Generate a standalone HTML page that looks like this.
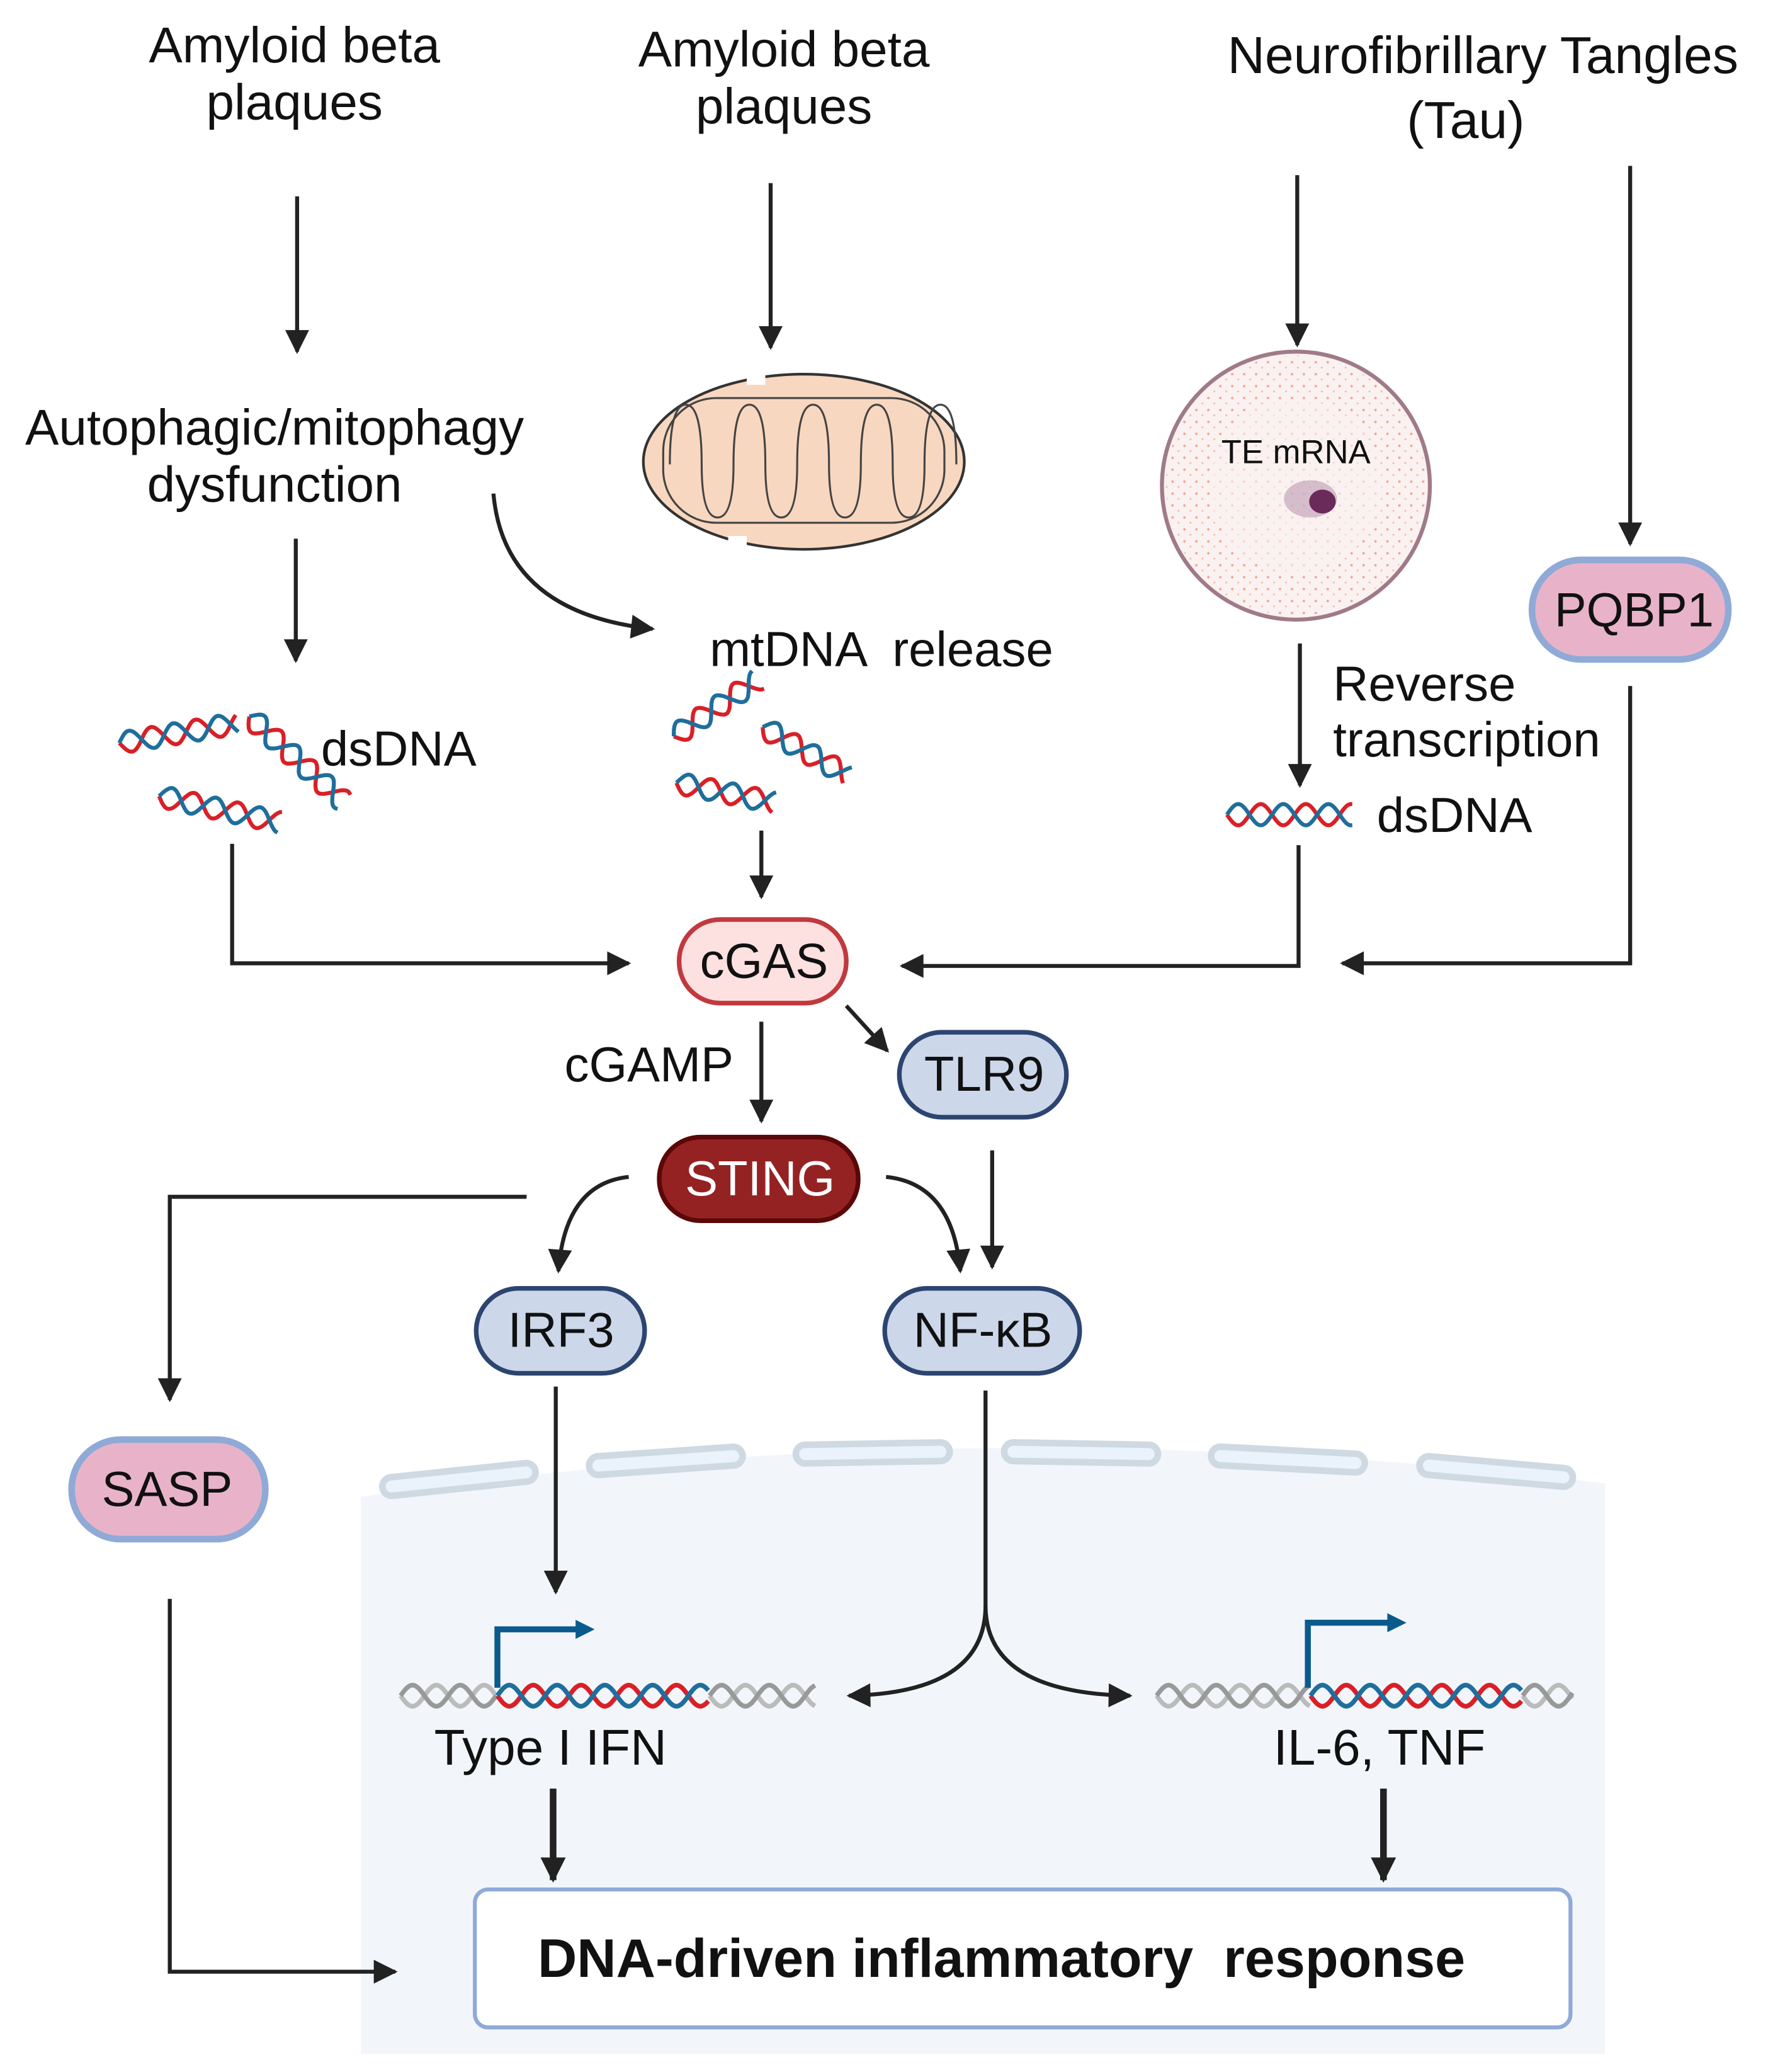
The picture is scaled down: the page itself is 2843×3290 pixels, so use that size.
<!DOCTYPE html>
<html><head><meta charset="utf-8">
<style>
html,body{margin:0;padding:0;background:#fff;}
svg{display:block;}
text{font-family:"Liberation Sans","DejaVu Sans",sans-serif;fill:#111;white-space:pre;}
</style></head>
<body>
<svg id="s" width="2843" height="3290" viewBox="0 0 1349.5 1561.6" preserveAspectRatio="none" xmlns="http://www.w3.org/2000/svg">
<defs>
<marker id="ah" viewBox="0 0 10 10" refX="9" refY="5" markerWidth="8" markerHeight="6" orient="auto-start-reverse" markerUnits="strokeWidth"><path d="M0,0 L10,5 L0,10 z" fill="#222"/></marker>
<marker id="ahb" viewBox="0 0 10 10" refX="9" refY="5" markerWidth="4.5" markerHeight="3.8" orient="auto" markerUnits="strokeWidth"><path d="M0,0 L10,5 L0,10 z" fill="#222"/></marker>
<marker id="ahp" viewBox="0 0 10 10" refX="7" refY="5" markerWidth="3.5" markerHeight="3.2" orient="auto" markerUnits="strokeWidth"><path d="M0,0 L10,5 L0,10 z" fill="#0b5a8c"/></marker>
<pattern id="dots" width="9" height="9" patternUnits="userSpaceOnUse"><circle cx="2" cy="3" r="0.9" fill="#f08060"/><circle cx="6.5" cy="7" r="0.7" fill="#f4a080"/></pattern>
</defs>

<path d="M272,1128 Q740,1060 1210,1118 L1210,1548 L272,1548 Z" fill="#f2f6fb"/>
<g fill="#eaf3fb" stroke="#cfd9e1" stroke-width="5">
<rect x="288" y="1108" width="116" height="14" rx="7" transform="rotate(-6 346 1115)"/>
<rect x="444" y="1094" width="116" height="14" rx="7" transform="rotate(-4 502 1101)"/>
<rect x="600" y="1088" width="116" height="14" rx="7" transform="rotate(-1 658 1095)"/>
<rect x="757" y="1088" width="116" height="14" rx="7" transform="rotate(1 815 1095)"/>
<rect x="913" y="1093" width="116" height="14" rx="7" transform="rotate(3 971 1100)"/>
<rect x="1070" y="1102" width="116" height="14" rx="7" transform="rotate(5 1128 1109)"/>
</g>

<g font-size="38" text-anchor="middle">
<text x="222" y="47">Amyloid beta</text>
<text x="222" y="90">plaques</text>
<text x="591" y="50">Amyloid beta</text>
<text x="591" y="93">plaques</text>
<text x="1118" y="55" font-size="39">Neurofibrillary Tangles</text>
<text x="1105" y="104" font-size="39">(Tau)</text>
<text x="207" y="335">Autophagic/mitophagy</text>
<text x="207" y="378">dysfunction</text>
</g>

<g stroke="#222" stroke-width="3" fill="none" marker-end="url(#ah)">
<line x1="224" y1="148" x2="224" y2="265"/>
<line x1="581" y1="138" x2="581" y2="262"/>
<line x1="978" y1="132" x2="978" y2="260"/>
<line x1="1229" y1="125" x2="1229" y2="410"/>
<line x1="223" y1="406" x2="223" y2="498"/>
<path d="M372,372 Q380,462 492,474"/>
<line x1="574" y1="626" x2="574" y2="676"/>
<line x1="980" y1="485" x2="980" y2="592"/>
<path d="M175,636 L175,726 L474,726"/>
<path d="M979,637 L979,728 L680,728"/>
<path d="M1229,517 L1229,726 L1012,726"/>
<line x1="574" y1="770" x2="574" y2="845"/>
<line x1="638" y1="758" x2="669" y2="792"/>
<line x1="748" y1="867" x2="748" y2="955"/>
<path d="M668,887 Q718,892 724,958"/>
<path d="M474,887 Q426,892 421,958"/>
<path d="M397,902 L128,902 L128,1055"/>
<line x1="419" y1="1045" x2="419" y2="1200"/>
<path d="M743,1048 L743,1210 Q743,1276 640,1278"/>
<path d="M743,1210 Q743,1276 852,1278"/>
<path d="M128,1205 L128,1486 L298,1486"/>
</g>
<g stroke="#222" stroke-width="5" fill="none" marker-end="url(#ahb)">
<line x1="417" y1="1348" x2="417" y2="1417"/>
<line x1="1043" y1="1348" x2="1043" y2="1417"/>
</g>

<g>
<ellipse cx="606" cy="348" rx="121" ry="66" fill="#f8d7c0" stroke="#333" stroke-width="2"/>
<rect x="500" y="300" width="212" height="94" rx="40" fill="none" stroke="#444" stroke-width="1.5"/>
<path d="M505,350 q0,-45 12,-45 q12,0 12,45 q0,40 12,40 q12,0 12,-40 q0,-45 12,-45 q12,0 12,45 q0,40 12,40 q12,0 12,-40 q0,-45 12,-45 q12,0 12,45 q0,40 12,40 q12,0 12,-40 q0,-45 12,-45 q12,0 12,45 q0,40 12,40 q12,0 12,-40 q0,-45 12,-45 q12,0 12,45" fill="none" stroke="#444" stroke-width="1.5"/>
<rect x="563" y="278" width="14" height="12" fill="#fff"/>
<rect x="549" y="404" width="14" height="12" fill="#fff"/>
</g>

<g>
<circle cx="977" cy="366" r="101" fill="#faf1f1" stroke="#a07a88" stroke-width="3"/>
<circle cx="977" cy="366" r="98" fill="url(#dots)" opacity="0.7"/>
<circle cx="977" cy="366" r="65" fill="#faf1f1" opacity="0.6"/>
<ellipse cx="988" cy="376" rx="20" ry="14" fill="#b08aa8" opacity="0.5"/>
<ellipse cx="997" cy="378" rx="10" ry="9" fill="#6a2a5a"/>
<text x="977" y="349" font-size="25" text-anchor="middle">TE mRNA</text>
</g>

<text x="535" y="502" font-size="37">mtDNA  release</text>
<text x="242" y="577" font-size="37">dsDNA</text>
<text x="1005" y="528" font-size="37">Reverse</text>
<text x="1005" y="570" font-size="37">transcription</text>
<text x="1038" y="627" font-size="37">dsDNA</text>
<text x="553" y="815" font-size="37" text-anchor="end">cGAMP</text>

<g id="helices"></g>

<path d="M375,1272 L375,1228 L444,1228" fill="none" stroke="#0b5a8c" stroke-width="4.5" marker-end="url(#ahp)"/>
<path d="M986,1272 L986,1223 L1056,1223" fill="none" stroke="#0b5a8c" stroke-width="4.5" marker-end="url(#ahp)"/>

<text x="415" y="1330" font-size="38" text-anchor="middle">Type I IFN</text>
<text x="1040" y="1330" font-size="38" text-anchor="middle">IL-6, TNF</text>

<rect x="1155" y="422" width="148" height="75" rx="37" fill="#e8b3c8" stroke="#8faad6" stroke-width="5"/>
<text x="1232" y="472" font-size="36" text-anchor="middle">PQBP1</text>
<rect x="512" y="693" width="126" height="63" rx="31" fill="#fde0e0" stroke="#c0393f" stroke-width="3.5"/>
<text x="576" y="737" font-size="37" text-anchor="middle">cGAS</text>
<rect x="678" y="778" width="126" height="64" rx="32" fill="#cdd7ea" stroke="#2c4570" stroke-width="3.5"/>
<text x="742" y="822" font-size="37" text-anchor="middle">TLR9</text>
<rect x="497" y="857" width="150" height="63" rx="31" fill="#952222" stroke="#5a0808" stroke-width="3.5"/>
<text x="573" y="901" font-size="37" text-anchor="middle" style="fill:#fff">STING</text>
<rect x="359" y="971" width="127" height="64" rx="32" fill="#cdd7ea" stroke="#2c4570" stroke-width="3.5"/>
<text x="423" y="1015" font-size="37" text-anchor="middle">IRF3</text>
<rect x="667" y="971" width="147" height="64" rx="32" fill="#cdd7ea" stroke="#2c4570" stroke-width="3.5"/>
<text x="741" y="1015" font-size="37" text-anchor="middle">NF-κB</text>
<rect x="54" y="1085" width="146" height="75" rx="37" fill="#e8b3c8" stroke="#8faad6" stroke-width="5"/>
<text x="126" y="1135" font-size="37" text-anchor="middle">SASP</text>

<rect x="358" y="1424" width="826" height="104" rx="10" fill="#fff" stroke="#8faad6" stroke-width="3"/>
<text x="755" y="1490" font-size="41" font-weight="bold" text-anchor="middle">DNA-driven inflammatory  response</text>
</svg>
<script>
(function(){
var g=document.getElementById('helices'),NS='http://www.w3.org/2000/svg';
function wave(x0,y0,x1,y1,amp,per,ph,col,w){
  var dx=x1-x0,dy=y1-y0,L=Math.sqrt(dx*dx+dy*dy),ux=dx/L,uy=dy/L,nx=-uy,ny=ux,d='';
  for(var t=0;t<=L;t+=1.5){var o=amp*Math.sin(2*Math.PI*t/per+ph);
    d+=(t?'L':'M')+(x0+ux*t+nx*o).toFixed(1)+','+(y0+uy*t+ny*o).toFixed(1);}
  var p=document.createElementNS(NS,'path');p.setAttribute('d',d);p.setAttribute('fill','none');
  p.setAttribute('stroke',col);p.setAttribute('stroke-width',w);g.appendChild(p);
}
function helix(x0,y0,x1,y1,amp,per,c1,c2,w){wave(x0,y0,x1,y1,amp,per,0,c1,w);wave(x0,y0,x1,y1,amp,per,Math.PI,c2,w);}
var R='#d92027',B='#1f6e9c',G1='#bbb',G2='#999';
helix(90,560,180,545,8,34,R,B,3);
helix(188,540,260,605,8,34,R,B,3);
helix(120,600,212,620,8,34,R,B,3);
helix(508,555,572,512,8,34,R,B,3);
helix(575,548,640,585,8,34,R,B,3);
helix(510,590,585,605,8,34,R,B,3);
helix(925,614,1020,614,8,34,R,B,3);
helix(302,1278,375,1278,8,36,G1,G2,3.5);
helix(375,1278,535,1278,8,36,R,B,3.5);
helix(535,1278,615,1278,8,36,G1,G2,3.5);
helix(872,1278,988,1278,8,36,G1,G2,3.5);
helix(988,1278,1148,1278,8,36,R,B,3.5);
helix(1148,1278,1186,1278,8,36,G1,G2,3.5);
})();
</script>
</body></html>
